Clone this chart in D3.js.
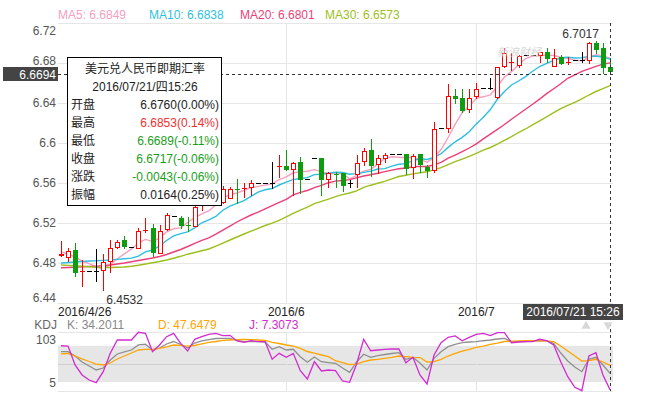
<!DOCTYPE html>
<html lang="zh">
<head>
  <meta charset="UTF-8">
  <title>美元兑人民币即期汇率 - 日K</title>
  <script src="https://d3js.org/d3.v7.min.js"></script>
  <style>
    body { margin: 0; background: #fff; }
    svg text { font-family: Arial, "Liberation Sans", "Noto Sans CJK SC", sans-serif; font-size: 12px; }
  </style>
</head>
<body>
<svg width="671" height="399"></svg>
<script>
  // daily candles, 2016/4/26 .. 2016/7/21
  const open = [
    6.4880, 6.4863, 6.4930, 6.4720, 6.4723, 6.4723, 6.4730, 6.4820, 6.4953, 6.5027,
    6.4960, 6.4953, 6.5128, 6.5147, 6.4897, 6.5137, 6.5273, 6.5247, 6.5183, 6.5170,
    6.5380, 6.5470, 6.5410, 6.5403, 6.5447, 6.5549, 6.5545, 6.5557, 6.5603, 6.5603,
    6.5603, 6.5761, 6.5770, 6.5747, 6.5813, 6.5637, 6.5847, 6.5847, 6.5637, 6.5699,
    6.5697, 6.5597, 6.5697, 6.5820, 6.5930, 6.5790, 6.5853, 6.5890, 6.5890, 6.5890,
    6.5757, 6.5890, 6.5757, 6.5723, 6.6147, 6.6147, 6.6470, 6.6447, 6.6337, 6.6463,
    6.6547, 6.6547, 6.6463, 6.6770, 6.6805, 6.6780, 6.6880, 6.6880, 6.6880, 6.6913,
    6.6770, 6.6857, 6.6810, 6.6830, 6.6830, 6.6830, 6.7000, 6.6947, 6.6760
  ];
  const high = [
    6.5020, 6.4947, 6.5003, 6.4830, 6.4723, 6.4940, 6.4887, 6.5030, 6.5030, 6.5070,
    6.4960, 6.5147, 6.5253, 6.5187, 6.5180, 6.5297, 6.5273, 6.5273, 6.5263, 6.5430,
    6.5510, 6.5520, 6.5500, 6.5570, 6.5565, 6.5637, 6.5603, 6.5630, 6.5603, 6.5603,
    6.5813, 6.5880, 6.5930, 6.5813, 6.5863, 6.5637, 6.5847, 6.5847, 6.5713, 6.5713,
    6.5697, 6.5630, 6.5880, 6.5947, 6.6037, 6.5880, 6.5903, 6.5890, 6.5890, 6.5890,
    6.5887, 6.5890, 6.5780, 6.6213, 6.6147, 6.6590, 6.6537, 6.6537, 6.6537, 6.6603,
    6.6547, 6.6647, 6.6763, 6.6947, 6.6900, 6.6880, 6.6880, 6.6880, 6.6913, 6.6947,
    6.6937, 6.6880, 6.6857, 6.6830, 6.6913, 6.7005, 6.7017, 6.6997, 6.6853
  ];
  const low = [
    6.4870, 6.4823, 6.4673, 6.4573, 6.4723, 6.4620, 6.4532, 6.4713, 6.4953, 6.4953,
    6.4960, 6.4953, 6.5113, 6.4873, 6.4897, 6.5130, 6.5273, 6.5153, 6.5120, 6.5170,
    6.5330, 6.5400, 6.5390, 6.5403, 6.5447, 6.5397, 6.5463, 6.5480, 6.5603, 6.5603,
    6.5547, 6.5663, 6.5730, 6.5480, 6.5497, 6.5637, 6.5847, 6.5480, 6.5563, 6.5563,
    6.5523, 6.5563, 6.5563, 6.5780, 6.5670, 6.5703, 6.5813, 6.5890, 6.5890, 6.5690,
    6.5647, 6.5713, 6.5657, 6.5713, 6.6147, 6.6113, 6.6403, 6.6313, 6.6313, 6.6447,
    6.6547, 6.6537, 6.6447, 6.6763, 6.6730, 6.6763, 6.6880, 6.6880, 6.6813, 6.6813,
    6.6770, 6.6790, 6.6790, 6.6830, 6.6813, 6.6803, 6.6900, 6.6703, 6.6689
  ];
  const close = [
    6.4890, 6.4920, 6.4713, 6.4725, 6.4723, 6.4723, 6.4807, 6.4953, 6.5007, 6.4963,
    6.4960, 6.5120, 6.5132, 6.4907, 6.5120, 6.5280, 6.5273, 6.5173, 6.5180, 6.5363,
    6.5470, 6.5420, 6.5460, 6.5537, 6.5537, 6.5545, 6.5549, 6.5597, 6.5603, 6.5603,
    6.5603, 6.5765, 6.5737, 6.5803, 6.5647, 6.5637, 6.5847, 6.5637, 6.5697, 6.5695,
    6.5580, 6.5597, 6.5803, 6.5920, 6.5780, 6.5847, 6.5880, 6.5890, 6.5890, 6.5753,
    6.5870, 6.5790, 6.5730, 6.6137, 6.6147, 6.6470, 6.6447, 6.6330, 6.6447, 6.6537,
    6.6547, 6.6547, 6.6763, 6.6903, 6.6810, 6.6870, 6.6880, 6.6880, 6.6913, 6.6857,
    6.6847, 6.6797, 6.6813, 6.6830, 6.6830, 6.7000, 6.6937, 6.6760, 6.6717
  ];

  // moving averages as plotted
  const ma5 = [
    6.4910, 6.4890, 6.4860, 6.4820, 6.4794, 6.4761, 6.4738, 6.4786, 6.4843, 6.4891,
    6.4938, 6.5001, 6.5036, 6.5016, 6.5048, 6.5112, 6.5142, 6.5151, 6.5205, 6.5254,
    6.5292, 6.5321, 6.5379, 6.5450, 6.5485, 6.5500, 6.5526, 6.5553, 6.5566, 6.5579,
    6.5591, 6.5634, 6.5662, 6.5702, 6.5711, 6.5718, 6.5734, 6.5714, 6.5693, 6.5703,
    6.5691, 6.5641, 6.5674, 6.5719, 6.5736, 6.5789, 6.5846, 6.5863, 6.5857, 6.5852,
    6.5857, 6.5839, 6.5807, 6.5856, 6.5935, 6.6055, 6.6186, 6.6306, 6.6368, 6.6446,
    6.6462, 6.6482, 6.6568, 6.6659, 6.6714, 6.6779, 6.6845, 6.6869, 6.6871, 6.6880,
    6.6875, 6.6859, 6.6845, 6.6829, 6.6823, 6.6854, 6.6882, 6.6871, 6.6849
  ];
  const ma10 = [
    6.4800, 6.4805, 6.4810, 6.4815, 6.4820, 6.4822, 6.4826, 6.4830, 6.4836, 6.4842,
    6.4849, 6.4869, 6.4911, 6.4930, 6.4969, 6.5025, 6.5072, 6.5094, 6.5111, 6.5151,
    6.5202, 6.5232, 6.5265, 6.5328, 6.5369, 6.5396, 6.5423, 6.5466, 6.5508, 6.5532,
    6.5545, 6.5580, 6.5608, 6.5634, 6.5645, 6.5654, 6.5684, 6.5688, 6.5698, 6.5707,
    6.5705, 6.5688, 6.5694, 6.5706, 6.5719, 6.5740, 6.5744, 6.5769, 6.5788, 6.5794,
    6.5823, 6.5842, 6.5835, 6.5857, 6.5893, 6.5956, 6.6012, 6.6056, 6.6112, 6.6191,
    6.6258, 6.6334, 6.6437, 6.6514, 6.6580, 6.6620, 6.6663, 6.6718, 6.6765, 6.6797,
    6.6827, 6.6852, 6.6857, 6.6850, 6.6852, 6.6865, 6.6870, 6.6858, 6.6838
  ];
  const ma20 = [
    6.4753, 6.4755, 6.4758, 6.4762, 6.4765, 6.4768, 6.4772, 6.4780, 6.4790, 6.4800,
    6.4812, 6.4825, 6.4838, 6.4850, 6.4865, 6.4885, 6.4910, 6.4935, 6.4965, 6.4997,
    6.5026, 6.5051, 6.5088, 6.5129, 6.5169, 6.5210, 6.5247, 6.5280, 6.5309, 6.5341,
    6.5374, 6.5406, 6.5436, 6.5481, 6.5507, 6.5525, 6.5554, 6.5577, 6.5603, 6.5619,
    6.5625, 6.5634, 6.5651, 6.5670, 6.5682, 6.5697, 6.5714, 6.5729, 6.5743, 6.5750,
    6.5764, 6.5765, 6.5765, 6.5781, 6.5806, 6.5848, 6.5878, 6.5913, 6.5950, 6.5992,
    6.6041, 6.6088, 6.6136, 6.6185, 6.6237, 6.6288, 6.6338, 6.6387, 6.6439, 6.6494,
    6.6543, 6.6593, 6.6647, 6.6682, 6.6716, 6.6742, 6.6767, 6.6788, 6.6801
  ];
  const ma30 = [
    6.4780, 6.4776, 6.4772, 6.4767, 6.4762, 6.4758, 6.4755, 6.4755, 6.4757, 6.4760,
    6.4768, 6.4778, 6.4790, 6.4802, 6.4815, 6.4830, 6.4848, 6.4867, 6.4888, 6.4905,
    6.4922, 6.4940, 6.4968, 6.4998, 6.5030, 6.5060, 6.5090, 6.5118, 6.5147, 6.5175,
    6.5199, 6.5227, 6.5261, 6.5297, 6.5328, 6.5358, 6.5393, 6.5416, 6.5439, 6.5463,
    6.5484, 6.5500, 6.5522, 6.5556, 6.5578, 6.5597, 6.5617, 6.5641, 6.5665, 6.5678,
    6.5691, 6.5703, 6.5712, 6.5732, 6.5753, 6.5783, 6.5813, 6.5838, 6.5866, 6.5897,
    6.5929, 6.5955, 6.5989, 6.6026, 6.6064, 6.6105, 6.6140, 6.6181, 6.6222, 6.6261,
    6.6303, 6.6343, 6.6376, 6.6407, 6.6442, 6.6480, 6.6515, 6.6544, 6.6573
  ];

  // KDJ
  const kVal = [
    70.3, 70.3, 63.1, 53.2, 46.5, 39.9, 43.2, 56.5, 66.5, 69.8,
    73.1, 81.5, 82.6, 73.1, 76.4, 83.1, 87.2, 82.2, 76.4, 84.7,
    88.1, 90.5, 92.2, 92.5, 92.5, 88.9, 86.9, 87.2, 86.9, 86.4,
    74.3, 78.6, 73.1, 74.3, 62.0, 52.7, 61.5, 53.7, 52.3, 51.0,
    43.2, 36.1, 53.2, 66.0, 61.0, 63.6, 65.6, 67.3, 68.6, 57.7,
    60.6, 51.5, 39.9, 59.3, 70.3, 78.6, 82.6, 85.2, 86.4, 86.9,
    88.5, 89.7, 91.4, 92.5, 86.9, 86.9, 87.2, 88.1, 88.5, 88.1,
    84.2, 68.1, 54.8, 44.9, 37.1, 57.7, 61.0, 48.2, 34.2011
  ];
  const dVal = [
    66.5, 67.3, 63.1, 58.2, 54.0, 49.8, 48.2, 51.5, 58.2, 63.1,
    68.1, 73.1, 74.3, 74.3, 75.9, 78.1, 81.4, 80.9, 79.7, 80.6,
    83.1, 85.6, 87.2, 89.2, 89.7, 90.2, 90.9, 90.5, 89.7, 88.9,
    85.6, 83.9, 81.4, 79.7, 75.9, 70.6, 68.1, 64.8, 62.0, 55.3,
    52.3, 49.0, 49.8, 53.7, 56.5, 57.7, 59.3, 61.0, 63.1, 62.0,
    61.0, 60.6, 53.2, 53.7, 57.7, 63.1, 67.6, 71.4, 74.3, 77.6,
    79.7, 82.6, 84.7, 87.2, 87.6, 88.1, 88.5, 88.5, 88.5, 88.1,
    86.9, 79.7, 71.4, 63.1, 54.8, 55.3, 57.7, 53.2, 47.6479
  ];
  const jVal = [
    80.2, 79.7, 48.2, 31.6, 23.3, 18.8, 37.1, 67.6, 89.7, 89.7,
    89.7, 102.5, 100.8, 70.3, 81.4, 95.2, 100.8, 84.2, 71.4, 90.9,
    95.2, 99.2, 100.8, 96.9, 97.5, 88.1, 85.9, 88.5, 86.9, 86.9,
    57.7, 67.6, 61.0, 67.6, 38.7, 24.9, 53.7, 38.2, 39.9, 38.7,
    21.6, 19.4, 49.8, 90.9, 71.9, 73.1, 74.3, 74.8, 74.8, 52.0,
    61.0, 31.6, 16.6, 64.8, 85.2, 94.2, 96.4, 88.5, 94.2, 99.2,
    100.8, 96.9, 101.8, 101.8, 85.2, 86.4, 86.9, 86.9, 90.9, 88.5,
    81.4, 53.7, 28.7, 11.1, 5.5, 63.1, 68.6, 31.6, 7.3073
  ];

  const priceTicks = [6.44, 6.48, 6.52, 6.56, 6.6, 6.64, 6.68, 6.72];
  const dateTickIdx = [0, 32, 59];
  const dateTickText = ["2016/4/26", "2016/6", "2016/7"];
  const kdjTicks = [103, 5];
  const maNames = ["MA5", "MA10", "MA20", "MA30"];
  const lastPrice = 6.6694;
  const title = "美元兑人民币即期汇率";
  const lastTime = "2016/07/21/四15:26";
  const crossTime = "2016/07/21 15:26";

  const n = close.length;
  const svg = d3.select("svg");
  const left = 58, right = 613;

  const x = d3.scaleLinear().domain([0, n - 1]).range([61, 610]);
  const y = d3.scaleLinear().domain([6.44, 6.72]).range([303, 23]);
  const yk = d3.scaleLinear().domain([5, 103]).range([391, 332]);
  const px = v => Math.round(v) + 0.5;

  const grid = "#e6e6e6";
  const axisText = "#555";
  const up = "#ff0000", down = "#109c10", flat = "#000";
  const maColors = ["#f5a0c0", "#2ebfe0", "#ec3f78", "#9cbf1c"];
  const yLast = px(y(lastPrice));

  // grid
  svg.append("g").selectAll("line").data(priceTicks).join("line")
    .attr("x1", left).attr("x2", right)
    .attr("y1", d => px(y(d))).attr("y2", d => px(y(d)))
    .attr("stroke", grid);

  svg.append("g").selectAll("line").data(dateTickIdx.slice(1)).join("line")
    .attr("x1", d => px(x(d))).attr("x2", d => px(x(d)))
    .attr("y1", 23).attr("y2", 303)
    .attr("stroke", grid);

  // kdj panel background
  svg.append("rect")
    .attr("x", left).attr("width", right - left)
    .attr("y", yk(80)).attr("height", yk(20) - yk(80))
    .attr("fill", "#e6e6e6");
  svg.append("line")
    .attr("x1", left).attr("x2", right)
    .attr("y1", px(yk(50))).attr("y2", px(yk(50)))
    .attr("stroke", "#cfcfcf");
  svg.append("g").selectAll("line").data(kdjTicks).join("line")
    .attr("x1", left).attr("x2", right)
    .attr("y1", d => px(yk(d))).attr("y2", d => px(yk(d)))
    .attr("stroke", grid);
  svg.append("g").selectAll("line").data(dateTickIdx.slice(1)).join("line")
    .attr("x1", d => px(x(d))).attr("x2", d => px(x(d)))
    .attr("y1", 332).attr("y2", 391)
    .attr("stroke", grid);

  // price axis labels (nudged off the current-price tag)
  const labelY = d => {
    let v = Math.min(Math.max(y(d), 31), 298);
    if (Math.abs(v - yLast) < 14) v = v < yLast ? yLast - 14 : yLast + 14;
    return v;
  };
  svg.append("g").selectAll("text").data(priceTicks).join("text")
    .attr("x", 56)
    .attr("y", labelY)
    .attr("dy", "0.35em")
    .attr("text-anchor", "end")
    .attr("fill", axisText)
    .text(d => String(d));

  // moving averages
  const maLine = d3.line().x((d, i) => x(i)).y(d => y(d));
  [ma5, ma10, ma20, ma30].forEach((s, k) => {
    svg.append("path").datum(s)
      .attr("d", maLine)
      .attr("fill", "none")
      .attr("stroke", maColors[k])
      .attr("stroke-width", 1.4);
  });

  // candles
  const idx = d3.range(n);
  const colorOf = i => close[i] > open[i] ? up : (close[i] < open[i] ? down : flat);
  const cg = svg.append("g");

  cg.selectAll("line.wick").data(idx.filter(i => high[i] > low[i])).join("line")
    .attr("class", "wick")
    .attr("x1", i => px(x(i))).attr("x2", i => px(x(i)))
    .attr("y1", i => Math.round(y(high[i]))).attr("y2", i => Math.round(y(low[i])) + 1)
    .attr("stroke", colorOf);

  const bodyTop = i => Math.round(Math.min(y(open[i]), y(close[i])));
  const bodyH = i => Math.round(Math.abs(y(open[i]) - y(close[i])));

  cg.selectAll("rect.body").data(idx.filter(i => bodyH(i) >= 1)).join("rect")
    .attr("class", "body")
    .attr("x", i => Math.round(x(i)) - 1.5)
    .attr("y", i => bodyTop(i) + 0.5)
    .attr("width", 4)
    .attr("height", bodyH)
    .attr("fill", i => close[i] > open[i] ? "#fff" : colorOf(i))
    .attr("stroke", colorOf);

  cg.selectAll("line.dash").data(idx.filter(i => bodyH(i) < 1)).join("line")
    .attr("class", "dash")
    .attr("x1", i => Math.round(x(i)) - 2).attr("x2", i => Math.round(x(i)) + 3)
    .attr("y1", i => px(y(close[i]))).attr("y2", i => px(y(close[i])))
    .attr("stroke", colorOf);

  // watermark
  svg.append("text")
    .attr("x", 497).attr("y", 56)
    .attr("fill", "#d6d6d6")
    .attr("font-style", "italic")
    .style("font-size", "11px")
    .text("新浪财经");

  // high / low marks
  const hi = d3.maxIndex(high), lo = d3.minIndex(low);
  svg.append("text")
    .attr("x", x(hi) + 3).attr("y", 37.5)
    .attr("text-anchor", "end").attr("fill", "#333")
    .text(high[hi].toFixed(4));
  svg.append("text")
    .attr("x", x(lo) + 3).attr("y", 303.5)
    .attr("fill", "#333")
    .text(low[lo].toFixed(4));

  // current price line + label
  svg.append("line")
    .attr("x1", left).attr("x2", right)
    .attr("y1", yLast).attr("y2", yLast)
    .attr("stroke", "#333").attr("stroke-dasharray", "3,3");
  svg.append("rect")
    .attr("x", 3).attr("y", yLast - 7.5).attr("width", 55).attr("height", 14)
    .attr("fill", "#444");
  svg.append("text")
    .attr("x", 56).attr("y", yLast).attr("dy", "0.35em")
    .attr("text-anchor", "end").attr("fill", "#fff")
    .text(lastPrice.toFixed(4));

  // crosshair on last candle
  svg.append("line")
    .attr("x1", px(x(n - 1))).attr("x2", px(x(n - 1)))
    .attr("y1", 23).attr("y2", 391)
    .attr("stroke", "#333").attr("stroke-dasharray", "3,3");

  // MA legend
  const maLast = [ma5, ma10, ma20, ma30].map(s => s[s.length - 1]);
  const maLegendX = [58, 149, 240, 325];
  svg.append("g").selectAll("text").data(maNames).join("text")
    .attr("x", (d, i) => maLegendX[i]).attr("y", 15).attr("dy", "0.35em")
    .attr("fill", (d, i) => maColors[i])
    .text((d, i) => `${d}: ${maLast[i].toFixed(4)}`);

  // date axis
  svg.append("g").selectAll("text").data(dateTickIdx).join("text")
    .attr("x", (d, i) => i === 0 ? left : x(d))
    .attr("y", 311.5).attr("dy", "0.35em")
    .attr("text-anchor", (d, i) => i === 0 ? "start" : "middle")
    .attr("fill", "#222")
    .text((d, i) => dateTickText[i]);

  svg.append("rect")
    .attr("x", 523).attr("y", 304).attr("width", 100).attr("height", 16)
    .attr("fill", "#444");
  svg.append("text")
    .attr("x", 573).attr("y", 312).attr("dy", "0.35em")
    .attr("text-anchor", "middle").attr("fill", "#fff")
    .text(crossTime);

  // KDJ
  const kdjLine = d3.line().x((d, i) => x(i)).y(d => yk(d));
  const kdjColors = ["#8f8f8f", "#ffa500", "#d22bd2"];
  [kVal, dVal, jVal].forEach((s, k) => {
    svg.append("path").datum(s)
      .attr("d", kdjLine)
      .attr("fill", "none")
      .attr("stroke", kdjColors[k])
      .attr("stroke-width", 1.3);
  });

  svg.append("text").attr("x", 57).attr("y", 325).attr("dy", "0.35em")
    .attr("text-anchor", "end").attr("fill", "#666").text("KDJ");
  const kdjLegend = [["K", kVal], ["D", dVal], ["J", jVal]];
  const kdjLegendX = [67, 158, 249];
  svg.append("g").selectAll("text").data(kdjLegend).join("text")
    .attr("x", (d, i) => kdjLegendX[i]).attr("y", 325).attr("dy", "0.35em")
    .attr("fill", (d, i) => i === 0 ? "#888" : kdjColors[i])
    .text(d => `${d[0]}: ${d[1][n - 1].toFixed(4)}`);

  svg.append("g").selectAll("text").data(kdjTicks).join("text")
    .attr("x", 56)
    .attr("y", d => d === 103 ? yk(d) + 8 : yk(d) - 8)
    .attr("dy", "0.35em")
    .attr("text-anchor", "end").attr("fill", axisText)
    .text(d => d);

  // small pan arrows
  svg.append("path")
    .attr("transform", "translate(586,326)")
    .attr("d", d3.symbol(d3.symbolTriangle, 36))
    .attr("fill", "#d8d8d8");
  svg.append("path")
    .attr("transform", "translate(608,325) rotate(180)")
    .attr("d", d3.symbol(d3.symbolTriangle, 36))
    .attr("fill", "#d8d8d8");

  // tooltip for last candle
  const last = n - 1;
  const prev = close[last - 1];
  const pct = v => ((v - prev) / prev * 100).toFixed(2) + "%";
  const colorVs = v => v > prev ? "#f23030" : (v < prev ? "#1a9e1a" : "#222");
  const change = close[last] - prev;
  const amp = high[last] - low[last];
  const rows = [
    ["开盘", `${open[last].toFixed(4)}(${pct(open[last])})`, colorVs(open[last])],
    ["最高", `${high[last].toFixed(4)}(${pct(high[last])})`, colorVs(high[last])],
    ["最低", `${low[last].toFixed(4)}(${pct(low[last])})`, colorVs(low[last])],
    ["收盘", `${close[last].toFixed(4)}(${pct(close[last])})`, colorVs(close[last])],
    ["涨跌", `${change.toFixed(4)}(${(change / prev * 100).toFixed(2)}%)`, colorVs(close[last])],
    ["振幅", `${amp.toFixed(4)}(${(amp / prev * 100).toFixed(2)}%)`, "#222"]
  ];

  const tip = svg.append("g");
  tip.append("rect")
    .attr("x", 67.5).attr("y", 57.5).attr("width", 154).attr("height", 148)
    .attr("fill", "#fff").attr("stroke", "#000");
  tip.append("text")
    .attr("x", 145).attr("y", 69).attr("dy", "0.35em")
    .attr("text-anchor", "middle").attr("fill", "#222").text(title);
  tip.append("text")
    .attr("x", 145).attr("y", 87).attr("dy", "0.35em")
    .attr("text-anchor", "middle").attr("fill", "#222").text(lastTime);
  tip.selectAll("text.lab").data(rows).join("text")
    .attr("class", "lab")
    .attr("x", 71).attr("y", (d, i) => 105 + i * 18).attr("dy", "0.35em")
    .attr("fill", "#222").text(d => d[0]);
  tip.selectAll("text.val").data(rows).join("text")
    .attr("class", "val")
    .attr("x", 219).attr("y", (d, i) => 105 + i * 18).attr("dy", "0.35em")
    .attr("text-anchor", "end")
    .attr("fill", d => d[2]).text(d => d[1]);
</script>
</body>
</html>
